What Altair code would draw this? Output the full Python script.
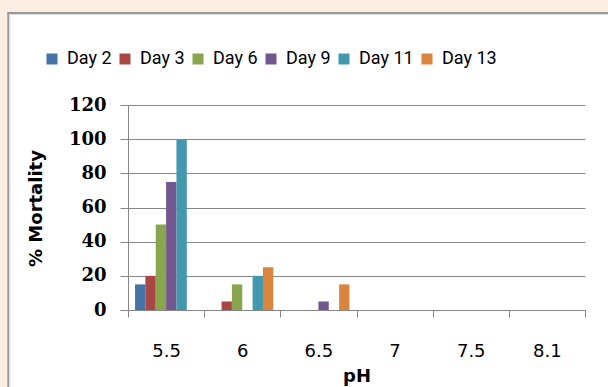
import altair as alt
import pandas as pd

ph_labels = ["5.5", "6", "6.5", "7", "7.5", "8.1"]
day_labels = ["Day 2", "Day 3", "Day 6", "Day 9", "Day 11", "Day 13"]
day2 = [15, 0, 0, 0, 0, 0]
day3 = [20, 5, 0, 0, 0, 0]
day6 = [50, 15, 0, 0, 0, 0]
day9 = [75, 0, 5, 0, 0, 0]
day11 = [100, 20, 0, 0, 0, 0]
day13 = [0, 25, 15, 0, 0, 0]
y_ticks = [0, 20, 40, 60, 80, 100, 120]
colors = ["#4572A7", "#AA4643", "#89A54E", "#71588F", "#4198AF", "#DB843D"]

rows = []
for d, vals in zip(day_labels, [day2, day3, day6, day9, day11, day13]):
    for p, v in zip(ph_labels, vals):
        rows.append({"pH": p, "Day": d, "Mortality": v})
df = pd.DataFrame(rows)

GRID = "#868686"
BEIGE = "#FDEEE3"

bars = alt.Chart(df).mark_bar().encode(
    x=alt.X(
        "pH:N", sort=ph_labels,
        scale=alt.Scale(paddingInner=0, paddingOuter=0),
        axis=alt.Axis(
            title="pH", tickBand="extent", labelAngle=0, grid=False,
            labelFont="DejaVu Sans", labelFontSize=18, labelColor="#000000",
            labelPadding=25, tickSize=7, tickColor=GRID, domainColor=GRID,
            titleFont="DejaVu Sans", titleFontSize=18, titleFontWeight="bold",
            titleColor="#000000", titleBaseline="top", titleY=57,
        ),
    ),
    xOffset=alt.XOffset("Day:N", sort=day_labels,
                        scale=alt.Scale(paddingInner=0, paddingOuter=0.68)),
    y=alt.Y(
        "Mortality:Q", scale=alt.Scale(domain=[0, 120]),
        axis=alt.Axis(
            values=y_ticks, title="% Mortality", grid=True, gridColor=GRID,
            tickSize=8, tickColor=GRID, domainColor=GRID, labelPadding=14,
            labelFont="DejaVu Serif", labelFontSize=18, labelFontWeight="bold",
            labelColor="#000000",
            titleFont="DejaVu Sans", titleFontSize=18, titleFontWeight="bold",
            titleColor="#000000", titleAngle=270, titleX=-92, titleY=103,
            titleAlign="center", titleBaseline="middle",
        ),
    ),
    color=alt.Color(
        "Day:N", sort=day_labels,
        scale=alt.Scale(domain=day_labels, range=colors),
        legend=alt.Legend(
            orient="none", legendX=-85, legendY=-55, direction="horizontal",
            columns=6, title=None, symbolType="square", symbolSize=121,
            symbolStrokeWidth=0, labelFont="Roboto", labelFontSize=18,
            labelColor="#000000", labelOffset=6, columnPadding=4,
        ),
    ),
)

one = pd.DataFrame({"k": [0]})

def panel_rect(x, x2, y, y2, color):
    return alt.Chart(one).mark_rect(color=color).encode(
        x=alt.value(x), x2=alt.value(x2), y=alt.value(y), y2=alt.value(y2)
    )

frame = [
    panel_rect(-128, -120.7, -105, 282, BEIGE),
    panel_rect(-128, 480, -105, -93, BEIGE),
    panel_rect(-120.7, -118.7, -93, 282, "#9A9A9A"),
    panel_rect(-120.7, 480, -93, -91, "#9A9A9A"),
    panel_rect(-118.7, -117.7, -91, 282, "#DCDCDC"),
    panel_rect(-118.7, 480, -91, -90, "#DCDCDC"),
]

chart = alt.layer(*frame, bars).properties(
    width=457, height=205,
    padding={"left": 128, "top": 105, "right": 23, "bottom": 77},
    autosize=alt.AutoSizeParams(type="none"),
    background="#FFFFFF",
).configure_view(stroke=None)

chart.save("out.html", embed_options={"renderer": "svg", "actions": False})
